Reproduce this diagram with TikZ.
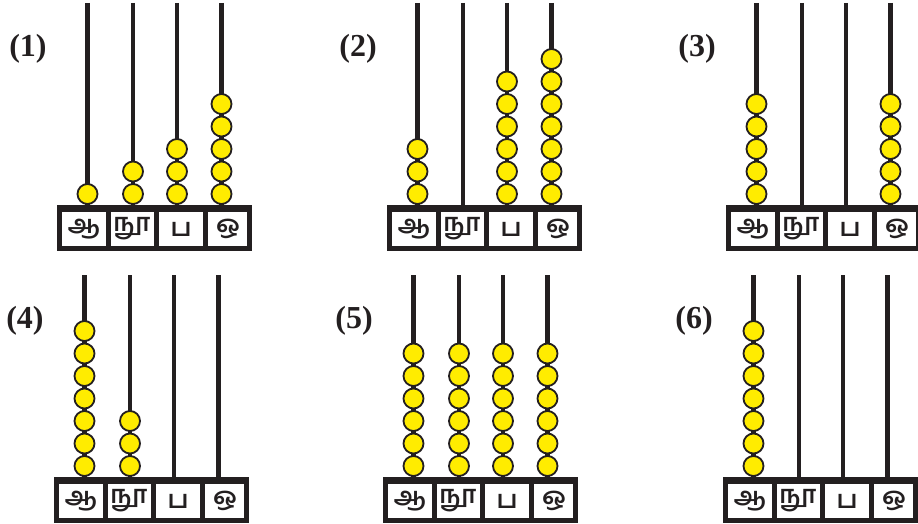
\documentclass[tikz,border=0pt]{standalone}
\usepackage{fontspec}
\usepackage{tikz}
\usetikzlibrary{positioning}
\newfontfamily\tamilfont[Script=Tamil]{Hind Madurai}
\newfontfamily\numfont{Liberation Serif}
\definecolor{beadyellow}{RGB}{255,236,0}
\definecolor{inkblack}{RGB}{35,31,32}
\tikzset{
    rod/.style={line width=4.2pt, draw=inkblack},
    frame/.style={line width=5pt, draw=inkblack},
    bead/.style={circle, draw=inkblack, line width=1.8pt, fill=beadyellow,
                 minimum size=20pt, inner sep=0pt},
    cell/.style={font=\tamilfont\bfseries\fontsize{25}{28}\selectfont,
                 text=inkblack, inner sep=0pt},
    numlbl/.style={font=\numfont\bfseries\fontsize{32}{36}\selectfont,
                   text=inkblack, inner sep=0pt},
}
% #1 name, #2/#3 top-left corner of the base, #4 number, #5-#8 beads per rod
\newcommand{\abacus}[8]{%
    \begin{scope}[shift={(#2,#3)}]
        \node[numlbl] (#1lbl) at (-29,-156) {(#4)};
        \foreach \rx/\n [count=\i] in {30.5/#5, 76/#6, 120/#7, 164.5/#8}{
            \draw[rod] (\rx,-202) -- (\rx,0);
            \ifnum\n>0
                \foreach \k in {1,...,\n}
                    \node[bead] (#1b\i\k) at (\rx,{-11-22.5*(\k-1)}) {};
            \fi
        }
        \draw[frame] (2.5,2.5) rectangle (192.5,43.5);
        \draw[frame, line width=6.5pt] (0,3.25) -- (195,3.25);
        \foreach \dx in {51,99.5,148}
            \draw[frame] (\dx,2.5) -- (\dx,43.5);
        \foreach \cx/\txt [count=\i] in {27/ஆ, 75/நூ, 124/ப, 171/ஒ}
            \node[cell] (#1c\i) at (\cx,24) {\txt};
    \end{scope}
}

\begin{document}
\begin{tikzpicture}[x=1pt, y=-1pt]
    \useasboundingbox (0,0) rectangle (918,524);
    \abacus{one}{57}{205}{1}{1}{2}{3}{5}
    \abacus{two}{387}{205}{2}{3}{0}{6}{7}
    \abacus{three}{726}{205}{3}{5}{0}{0}{5}
    \abacus{four}{54}{477}{4}{7}{3}{0}{0}
    \abacus{five}{383}{477}{5}{6}{6}{6}{6}
    \abacus{six}{723}{477}{6}{7}{0}{0}{0}
\end{tikzpicture}
\end{document}
